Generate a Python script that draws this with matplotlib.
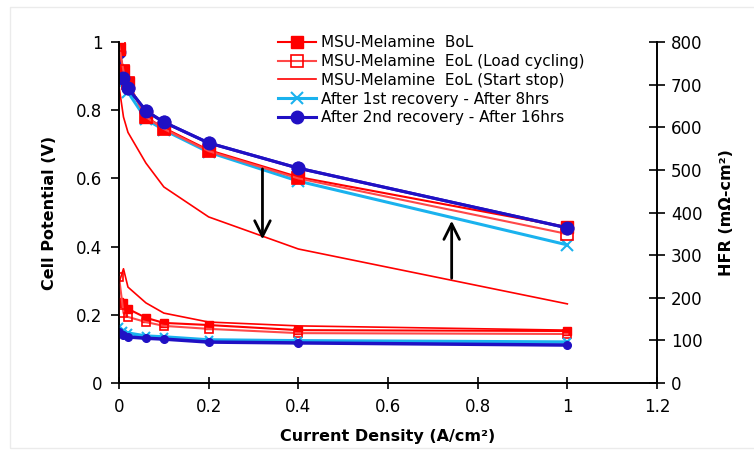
import matplotlib
matplotlib.use('Agg')
import matplotlib.pyplot as plt
from matplotlib.patches import Rectangle

# Polarization and HFR data, MSU-Melamine MEA
current = [0, 0.01, 0.02, 0.06, 0.1, 0.2, 0.4, 1.0]

v_bol = [0.98, 0.915, 0.88, 0.78, 0.748, 0.683, 0.604, 0.457]
v_eol_lc = [0.99, 0.915, 0.88, 0.78, 0.745, 0.68, 0.60, 0.437]
v_eol_ss = [0.87, 0.78, 0.735, 0.645, 0.575, 0.487, 0.393, 0.232]
v_rec1 = [0.945, 0.88, 0.853, 0.774, 0.742, 0.677, 0.592, 0.405]
v_rec2 = [0.97, 0.894, 0.865, 0.798, 0.765, 0.704, 0.630, 0.455]

hfr_bol = [190, 188, 174, 153, 141, 136, 124, 122]
hfr_eol_lc = [249, 164, 155, 143, 134, 127, 117, 115]
hfr_eol_ss = [235, 268, 225, 188, 164, 143, 134, 124]
hfr_rec1 = [131, 122, 117, 110, 108, 101, 99, 96]
hfr_rec2 = [120, 113, 108, 105, 103, 96, 94, 89]

labels = ['MSU-Melamine  BoL',
          'MSU-Melamine  EoL (Load cycling)',
          'MSU-Melamine  EoL (Start stop)',
          'After 1st recovery - After 8hrs',
          'After 2nd recovery - After 16hrs']

RED = '#FF0000'
PINK = '#FF4848'
LBLUE = '#1AB2EE'
DBLUE = '#2010C4'

plt.rcParams['font.family'] = 'DejaVu Sans'

fig = plt.figure(figsize=(7.54, 4.55), dpi=100)
# light chart-area border
fig.patches.append(Rectangle((10 / 754, 0.015), 0.99, 0.97, transform=fig.transFigure,
                             fill=False, edgecolor='#EBEBEB', lw=1))

ax = fig.add_axes([119 / 754, 1 - 383 / 455, 538 / 754, 341 / 455])
ax2 = ax.twinx()

# cell potential curves
h4, = ax.plot(current, v_rec1, color=LBLUE, lw=2.2, marker='x', ms=8.5, mew=1.5)
h5, = ax.plot(current, v_rec2, color=DBLUE, lw=2.2, marker='o', ms=9)
h1, = ax.plot(current, v_bol, color=RED, lw=1.5, marker='s', ms=8, mfc=RED, mec=RED)
h2, = ax.plot(current, v_eol_lc, color=PINK, lw=1.5, marker='s', ms=8, mfc='none', mec=RED, mew=1.2)
h3, = ax.plot(current, v_eol_ss, color=RED, lw=1.2)
# keep the 2nd-recovery circles visible above the squares past OCV
ax.plot(current[1:], v_rec2[1:], color=DBLUE, lw=2.2, marker='o', ms=9)

# HFR curves on the right axis
ax2.plot(current, hfr_bol, color=RED, lw=1.5, marker='s', ms=5.5, mfc=RED, mec=RED)
ax2.plot(current, hfr_eol_lc, color=PINK, lw=1.5, marker='s', ms=5.5, mfc='none', mec=RED, mew=1.2)
ax2.plot(current, hfr_eol_ss, color=RED, lw=1.2)
ax2.plot(current, hfr_rec1, color=LBLUE, lw=2.5, marker='x', ms=5.5, mew=1.5)
ax2.plot(current, hfr_rec2, color=DBLUE, lw=2.5, marker='o', ms=5.5)

# degradation / recovery arrows
ax.annotate('', xy=(0.32, 0.413), xytext=(0.32, 0.636),
            arrowprops=dict(arrowstyle='->', lw=2, color='black', mutation_scale=28))
ax.annotate('', xy=(0.742, 0.484), xytext=(0.742, 0.299),
            arrowprops=dict(arrowstyle='->', lw=2, color='black', mutation_scale=28))

ax.set_xlim(0, 1.2)
ax.set_ylim(0, 1)
ax2.set_ylim(0, 800)
ax.set_xticks([0, 0.2, 0.4, 0.6, 0.8, 1.0, 1.2])
ax.set_xticklabels(['0', '0.2', '0.4', '0.6', '0.8', '1', '1.2'])
ax.set_yticks([0, 0.2, 0.4, 0.6, 0.8, 1.0])
ax.set_yticklabels(['0', '0.2', '0.4', '0.6', '0.8', '1'])
ax2.set_yticks(range(0, 801, 100))

for a in (ax, ax2):
    a.spines['top'].set_visible(False)
    for s in a.spines.values():
        s.set_linewidth(1.2)
ax.tick_params(axis='x', direction='inout', length=9, width=1.2, labelsize=12, pad=6)
ax.tick_params(axis='y', direction='out', length=6, width=1.2, labelsize=12, pad=6)
ax2.tick_params(axis='y', direction='inout', length=12, width=1.2, labelsize=12, pad=4)

ax.set_xlabel('Current Density (A/cm²)', fontsize=11.5, fontweight='bold', labelpad=10)
ax.set_ylabel('Cell Potential (V)', fontsize=11.5, fontweight='bold', labelpad=14)
ax2.set_ylabel('HFR (mΩ-cm²)', fontsize=11.5, fontweight='bold', labelpad=12)

fig.legend([h1, h2, h3, h4, h5], labels, loc='upper left',
           bbox_to_anchor=(272 / 754, 1 - 29 / 455), frameon=False, fontsize=11,
           handlelength=2.5, handletextpad=0.3, labelspacing=0.25, borderaxespad=0)

fig.savefig('out.png', dpi=100)
